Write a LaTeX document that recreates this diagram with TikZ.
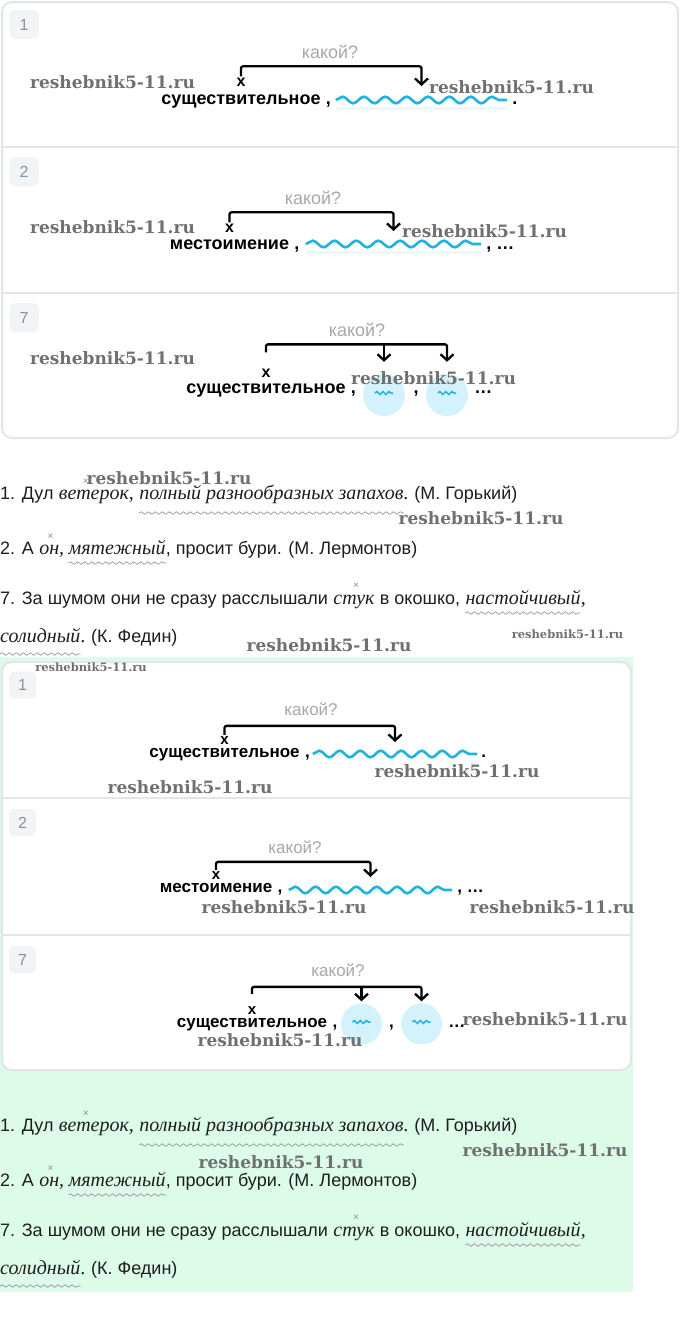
\documentclass[tikz,border=0pt]{standalone}
\usepackage{fontspec}
\setmainfont{Liberation Sans}
\newfontfamily\serifit{Liberation Serif}
\newfontfamily\wmfont{DejaVu Serif}
\usetikzlibrary{decorations.pathmorphing,arrows.meta,calc}
\definecolor{boxline}{HTML}{E3E6E8}
\definecolor{numfill}{HTML}{F1F3F5}
\definecolor{numtext}{HTML}{8594A3}
\definecolor{qgray}{HTML}{A8A8A8}
\definecolor{wavecol}{HTML}{1FB3DD}
\definecolor{wavefaint}{HTML}{EDF9FD}
\definecolor{bubble}{HTML}{D3F2FB}
\definecolor{wmcol}{HTML}{707070}
\definecolor{greenbg}{HTML}{DCFBE8}
\definecolor{ulcol}{HTML}{8C8C8C}
\definecolor{textcol}{HTML}{1E1E1E}
\tikzset{
  panel/.style={draw=boxline, line width=2pt, fill=white, rounded corners=10pt},
  divider/.style={draw=boxline, line width=2pt},
  numbox/.style={fill=numfill, rounded corners=5pt, minimum width=#1, minimum height=#1, inner sep=0pt, text=numtext, font=\fontsize{16}{16}\selectfont},
  numbox/.default=29pt,
  question/.style={text=qgray, inner sep=0pt, font=\fontsize{#1}{#1}\selectfont},
  question/.default=18,
  term/.style={inner sep=0pt, anchor=base, text=black, font=\bfseries\fontsize{#1}{#1}\selectfont},
  term/.default=18,
  trail/.style={term=#1, anchor=base west},
  trail/.default=18,
  xmark/.style={inner sep=0pt, anchor=base, text=black, font=\bfseries\fontsize{#1}{#1}\selectfont},
  xmark/.default=16,
  wavebox/.style={inner sep=0pt, minimum height=8pt, minimum width=#1},
  bracket/.style={line width=2.3pt, rounded corners=2pt, -{Straight Barb[length=6pt,width=13pt]}},
  bluewave/.style={draw=wavecol, line width=2.6pt, decorate, decoration={snake, amplitude=3.3pt, segment length=#1}},
  bluewave/.default=21pt,
  faintline/.style={draw=wavefaint, line width=3pt},
  bubblec/.style={circle, fill=bubble, minimum size=#1, inner sep=0pt},
  bubblec/.default=42pt,
  smallwave/.style={draw=wavecol, line width=1.5pt, decorate, decoration={snake, amplitude=1.5pt, segment length=6pt}},
  watermark/.style={text=wmcol, inner sep=0pt, font=\wmfont\bfseries\fontsize{17}{17}\selectfont},
  smallwm/.style={text=wmcol, inner sep=0pt, font=\wmfont\bfseries\fontsize{11.5}{11.5}\selectfont},
  sent/.style={inner sep=0pt, anchor=base west, text=textcol, font=\fontsize{18}{18}\selectfont},
  sentit/.style={inner sep=0pt, anchor=base west, text=textcol, font=\serifit\itshape\fontsize{20}{20}\selectfont},
  ulwave/.style={draw=ulcol, line width=0.6pt, decorate, decoration={snake, amplitude=1.3pt, segment length=7pt}},
  cross/.style={inner sep=0pt, text=ulcol, font=\fontsize{10}{10}\selectfont},
}
\newcommand\ExampleLines[2]{%
  \node[sent] (#1L1a) at (0,{499+#2}) {1. Дул};
  \node[sentit] (#1L1b) at ($(#1L1a.base east)+(5,0)$) {ветерок,};
  \node[sentit] (#1L1c) at ($(#1L1b.base east)+(5,0)$) {полный разнообразных запахов};
  \node[sentit] (#1L1d) at (#1L1c.base east) {.};
  \node[sent] (#1L1e) at ($(#1L1d.base east)+(5,0)$) {(М. Горький)};
  \node[cross] (#1X1) at ($(#1L1b.base west)!0.36!(#1L1b.base east)+(0,-17)$) {×};
  \draw[ulwave] ($(#1L1c.base west)+(0,14)$) -- ($(#1L1c.base east)+(0,14)$);
  \node[sent] (#1L2a) at (0,{554+#2}) {2. А};
  \node[sentit] (#1L2b) at ($(#1L2a.base east)+(5,0)$) {он,};
  \node[sentit] (#1L2c) at ($(#1L2b.base east)+(4,0)$) {мятежный};
  \node[sent] (#1L2d) at (#1L2c.base east) {, просит бури. (М. Лермонтов)};
  \node[cross] (#1X2) at ($(#1L2b.base west)!0.45!(#1L2b.base east)+(0,-17)$) {×};
  \draw[ulwave] ($(#1L2c.base west)+(0,9)$) -- ($(#1L2c.base east)+(0,9)$);
  \node[sent] (#1L3a) at (0,{604+#2}) {7. За шумом они не сразу расслышали};
  \node[sentit] (#1L3b) at ($(#1L3a.base east)+(5,0)$) {стук};
  \node[sent] (#1L3c) at ($(#1L3b.base east)+(5,0)$) {в окошко,};
  \node[sentit] (#1L3d) at ($(#1L3c.base east)+(5,0)$) {настойчивый};
  \node[sentit] (#1L3e) at (#1L3d.base east) {,};
  \node[cross] (#1X3) at ($(#1L3b.base west)!0.55!(#1L3b.base east)+(0,-18)$) {×};
  \draw[ulwave] ($(#1L3d.base west)+(0,9)$) -- ($(#1L3d.base east)+(0,9)$);
  \node[sentit] (#1L4a) at (0,{642+#2}) {солидный};
  \node[sentit] (#1L4b) at (#1L4a.base east) {.};
  \node[sent] (#1L4c) at ($(#1L4b.base east)+(5,0)$) {(К. Федин)};
  \draw[ulwave] ($(#1L4a.base west)+(0,12)$) -- ($(#1L4a.base east)+(0,12)$);
}
\begin{document}
\begin{tikzpicture}[x=1pt,y=-1pt]
\useasboundingbox (0,0) rectangle (680,1325);
\fill[white] (0,0) rectangle (680,1325);
\fill[greenbg] (0,657) rectangle (633,1292);

% ===== first set of schemes =====
\draw[panel] (2,2) rectangle (678,438);
\draw[divider] (2,147) -- (678,147);
\draw[divider] (2,293) -- (678,293);
\node[numbox] (A1num) at (24,24.5) {1};
\node[numbox] (A2num) at (24,171.5) {2};
\node[numbox] (A3num) at (24,317.5) {7};

% A1
\node[question] (A1q) at (330,52) {какой?};
\node[term] (A1term) at (241,104) {существительное};
\node[xmark] (A1x) at (241,86) {x};
\node[trail] (A1comma) at ($(A1term.base east)+(5,0)$) {,};
\node[wavebox=171pt] (A1wave) at (421.5,100) {};
\draw[faintline] ($(A1wave.west)+(0,8)$) -- ($(A1wave.east)+(0,8)$);
\draw[bluewave=21.375pt] (A1wave.west) -- (A1wave.east);
\node[trail] (A1end) at ($(A1wave.east |- A1term.base)+(5,0)$) {.};
\draw[bracket] ($(A1x.north)+(0,-1)$) -- ++(0,-10) -| ($(A1wave.center)+(0,-14)$);

% A2
\node[question] (A2q) at (313,198) {какой?};
\node[term] (A2term) at (229.5,249.5) {местоимение};
\node[xmark] (A2x) at (229.5,232) {x};
\node[trail] (A2comma) at ($(A2term.base east)+(5,0)$) {,};
\node[wavebox=175pt] (A2wave) at (393.5,244) {};
\draw[faintline] ($(A2wave.west)+(0,8)$) -- ($(A2wave.east)+(0,8)$);
\draw[bluewave=21.875pt] (A2wave.west) -- (A2wave.east);
\node[trail] (A2end) at ($(A2wave.east |- A2term.base)+(5,0)$) {, …};
\draw[bracket] ($(A2x.north)+(0,-1)$) -- ++(0,-10) -| ($(A2wave.center)+(0,-13)$);

% A3
\node[question] (A3q) at (357,330) {какой?};
\node[term] (A3term) at (266,393.5) {существительное};
\node[xmark] (A3x) at (266,377) {x};
\node[trail] (A3comma) at ($(A3term.base east)+(5,0)$) {,};
\node[bubblec] (A3c1) at (384,395) {};
\node[bubblec] (A3c2) at (447,395) {};
\draw[smallwave] ($(A3c1.center)+(-9,-2)$) -- ($(A3c1.center)+(9,-2)$);
\draw[smallwave] ($(A3c2.center)+(-9,-2)$) -- ($(A3c2.center)+(9,-2)$);
\node[term] (A3comma2) at (416,393.5) {,};
\node[trail] (A3end) at ($(A3c2.east |- A3term.base)+(6,0)$) {…};
\coordinate (A3top) at ($(A3x.north)+(0,-24)$);
\draw[bracket] ($(A3x.north)+(0,-16)$) -- (A3top) -| ($(A3c2.north)+(0,-12)$);
\draw[bracket] (A3top -| A3c1.north) -- ($(A3c1.north)+(0,-12)$);

% watermarks of the first set
\node[watermark] (wA1l) at (112.5,82) {reshebnik5-11.ru};
\node[watermark] (wA1r) at (511.5,87) {reshebnik5-11.ru};
\node[watermark] (wA2l) at (112.5,227) {reshebnik5-11.ru};
\node[watermark] (wA2r) at (484.5,231) {reshebnik5-11.ru};
\node[watermark] (wA3l) at (112.5,358) {reshebnik5-11.ru};
\node[watermark] (wA3r) at (433.5,378) {reshebnik5-11.ru};

% ===== first set of sentences =====
\ExampleLines{S}{0}
\node[watermark] (wS1) at (169,478) {reshebnik5-11.ru};
\node[watermark] (wS2) at (481,518) {reshebnik5-11.ru};
\node[watermark] (wS3) at (329,645) {reshebnik5-11.ru};
\node[smallwm] (wS4) at (567.5,634) {reshebnik5-11.ru};

% ===== second set of schemes =====
\draw[panel] (2,662) rectangle (631,1070);
\draw[divider] (2,798) -- (631,798);
\draw[divider] (2,935) -- (631,935);
\node[numbox=27pt] (B1num) at (22.5,685) {1};
\node[numbox=27pt] (B2num) at (22.5,822.5) {2};
\node[numbox=27pt] (B3num) at (22.5,959.5) {7};

% B1
\node[question=17] (B1q) at (311,709) {какой?};
\node[term=17] (B1term) at (224.5,757.5) {существительное};
\node[xmark=15] (B1x) at (224.5,744) {x};
\node[trail=17] (B1comma) at ($(B1term.base east)+(5,0)$) {,};
\node[wavebox=164pt] (B1wave) at (395,754) {};
\draw[bluewave=20.5pt] (B1wave.west) -- (B1wave.east);
\node[trail=17] (B1end) at ($(B1wave.east |- B1term.base)+(4,0)$) {.};
\draw[bracket] ($(B1x.north)+(0,-1)$) -- ++(0,-9) -| ($(B1wave.center)+(0,-12)$);

% B2
\node[question=17] (B2q) at (295,847) {какой?};
\node[term=17] (B2term) at (216,892) {местоимение};
\node[xmark=15] (B2x) at (216,879) {x};
\node[trail=17] (B2comma) at ($(B2term.base east)+(5,0)$) {,};
\node[wavebox=163pt] (B2wave) at (370.5,890) {};
\draw[bluewave=20.375pt] (B2wave.west) -- (B2wave.east);
\node[trail=17] (B2end) at ($(B2wave.east |- B2term.base)+(5,0)$) {, …};
\draw[bracket] ($(B2x.north)+(0,-1)$) -- ++(0,-8) -| ($(B2wave.center)+(0,-13)$);

% B3
\node[question=17] (B3q) at (338,970) {какой?};
\node[term=17] (B3term) at (252,1027.5) {существительное};
\node[xmark=15] (B3x) at (252,1014) {x};
\node[trail=17] (B3comma) at ($(B3term.base east)+(5,0)$) {,};
\node[bubblec=41pt] (B3c1) at (361.5,1024) {};
\node[bubblec=41pt] (B3c2) at (421.5,1024) {};
\draw[smallwave] ($(B3c1.center)+(-9,-2)$) -- ($(B3c1.center)+(9,-2)$);
\draw[smallwave] ($(B3c2.center)+(-9,-2)$) -- ($(B3c2.center)+(9,-2)$);
\node[term=17] (B3comma2) at (391.5,1027.5) {,};
\node[trail=17] (B3end) at ($(B3c2.east |- B3term.base)+(6,0)$) {…};
\coordinate (B3top) at ($(B3x.north)+(0,-19)$);
\draw[bracket] ($(B3x.north)+(0,-12)$) -- (B3top) -| ($(B3c2.north)+(0,-2)$);
\draw[bracket] (B3top -| B3c1.north) -- ($(B3c1.north)+(0,-2)$);

% watermarks of the second set
\node[smallwm] (wB0) at (91,667) {reshebnik5-11.ru};
\node[watermark] (wB1r) at (457,771) {reshebnik5-11.ru};
\node[watermark] (wB1l) at (190,787) {reshebnik5-11.ru};
\node[watermark] (wB2l) at (284,907) {reshebnik5-11.ru};
\node[watermark] (wB2r) at (552,907) {reshebnik5-11.ru};
\node[watermark] (wB3r) at (545,1019) {reshebnik5-11.ru};
\node[watermark] (wB3l) at (280,1040) {reshebnik5-11.ru};

% ===== second set of sentences =====
\ExampleLines{T}{632}
\node[watermark] (wT1) at (545,1150) {reshebnik5-11.ru};
\node[watermark] (wT2) at (281,1162) {reshebnik5-11.ru};
\end{tikzpicture}
\end{document}
